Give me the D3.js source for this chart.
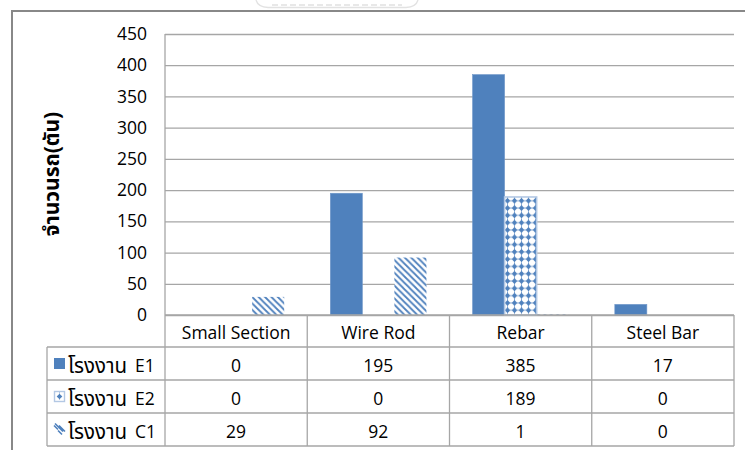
<!DOCTYPE html>
<html>
<head>
<meta charset="utf-8">
<script src="https://cdn.jsdelivr.net/npm/d3@7"></script>
<style>
  html, body { margin: 0; padding: 0; background: #fff; }
  svg { display: block; }
  text { font-family: "Open Sans", "Noto Sans", "Noto Sans Thai", "DejaVu Sans", sans-serif; fill: #000; }
</style>
</head>
<body>
<svg id="chart" width="745" height="450"></svg>
<script>
// Monthly tonnage per product line for three plants
const categories = ["Small Section", "Wire Rod", "Rebar", "Steel Bar"];
const seriesNames = ["โรงงาน E1", "โรงงาน E2", "โรงงาน C1"];
const plantE1 = [0, 195, 385, 17];
const plantE2 = [0, 0, 189, 0];
const plantC1 = [29, 92, 1, 0];
const yTicks = [0, 50, 100, 150, 200, 250, 300, 350, 400, 450];
const yTitle = "จำนวนรถ(ตัน)";

const series = [
  { name: seriesNames[0], values: plantE1, key: "e1" },
  { name: seriesNames[1], values: plantE2, key: "e2" },
  { name: seriesNames[2], values: plantC1, key: "c1" }
];

const W = 745, H = 450;
const plot = { left: 165, right: 734, top: 34, bottom: 315 };
const table = { left: 47, header: 347, bottom: 446 };
const blue = "#4f81bd";
const gridColor = "#a6a6a6";
const fontSize = 17.5;
const thaiSize = 20.5;

const svg = d3.select("#chart");
const defs = svg.append("defs");

// Fill patterns: dotted diamonds for E2, wide downward diagonal for C1
const pE2 = defs.append("pattern").attr("id", "pat-e2")
  .attr("patternUnits", "userSpaceOnUse").attr("width", 7).attr("height", 7.3);
pE2.append("rect").attr("width", 7).attr("height", 7.3).attr("fill", "#fff");
pE2.append("line").attr("x1", 0).attr("x2", 7).attr("y1", 3.65).attr("y2", 3.65)
  .attr("stroke", blue).attr("stroke-width", 0.9).attr("stroke-dasharray", "1,1").attr("opacity", 0.8);
pE2.append("line").attr("x1", 3.5).attr("x2", 3.5).attr("y1", 0).attr("y2", 7.3)
  .attr("stroke", blue).attr("stroke-width", 0.9).attr("stroke-dasharray", "1,1").attr("opacity", 0.8);
pE2.append("path").attr("d", "M3.5,0.7 L6.3,3.65 L3.5,6.6 L0.7,3.65 Z").attr("fill", blue);

const pC1 = defs.append("pattern").attr("id", "pat-c1")
  .attr("patternUnits", "userSpaceOnUse").attr("width", 6.4).attr("height", 6.4);
pC1.append("rect").attr("width", 6.4).attr("height", 6.4).attr("fill", "#fff");
pC1.append("path").attr("d", "M-1,-1 L7.4,7.4 M-7.4,-1 L1,7.4 M5.4,-1 L13.8,7.4")
  .attr("stroke", blue).attr("stroke-width", 1.8);

const fills = { e1: blue, e2: "url(#pat-e2)", c1: "url(#pat-c1)" };

// Faint seal outline peeking in at the top of the page
svg.append("path")
  .attr("d", "M256,0 Q258,7 268,7.5 L406,7.5 Q416,7 418,0")
  .attr("fill", "none").attr("stroke", "#e2e2e2").attr("stroke-width", 1.3);
svg.append("line").attr("x1", 272).attr("x2", 402).attr("y1", 5).attr("y2", 5)
  .attr("stroke", "#e8e8e8").attr("stroke-width", 1.8).attr("stroke-dasharray", "6,3");

// Outer chart frame (continues past the right and bottom edges)
svg.append("path").attr("d", `M12,${H} L12,11 L${W},11`)
  .attr("fill", "none").attr("stroke", "#888").attr("stroke-width", 2);

// Scales
const y = d3.scaleLinear().domain([0, 450]).range([plot.bottom, plot.top]);
const x = d3.scaleBand().domain(categories).range([plot.left, plot.right]).padding(0);
const xs = d3.scaleBand().domain(series.map(s => s.key)).range([0, x.bandwidth()])
  .paddingInner(0).paddingOuter(0.72);

// Gridlines via the axis generator
const grid = svg.append("g").attr("transform", `translate(${plot.left},0)`)
  .call(d3.axisLeft(y).tickValues(yTicks).tickSize(-(plot.right - plot.left)).tickFormat(""));
grid.select(".domain").remove();
grid.selectAll(".tick line").attr("stroke", gridColor).attr("stroke-width", 1.3);

// Tick labels
const yAxis = svg.append("g").attr("transform", `translate(${plot.left},0)`)
  .call(d3.axisLeft(y).tickValues(yTicks).tickSize(0).tickPadding(18));
yAxis.select(".domain").remove();
yAxis.selectAll("text").attr("font-size", fontSize)
  .style("font-family", "'Open Sans', sans-serif").attr("fill", "#000");

// Vertical axis line
svg.append("line").attr("x1", plot.left).attr("x2", plot.left)
  .attr("y1", plot.top).attr("y2", table.bottom)
  .attr("stroke", gridColor).attr("stroke-width", 1.3);

// Axis title
svg.append("text")
  .attr("transform", `translate(51,174) rotate(-90)`)
  .attr("text-anchor", "middle").attr("dominant-baseline", "central")
  .attr("font-size", 21).attr("font-weight", "bold")
  .text(yTitle);

// Bars
series.forEach(s => {
  svg.append("g").selectAll("rect").data(s.values).join("rect")
    .attr("x", (d, i) => x(categories[i]) + xs(s.key))
    .attr("width", xs.bandwidth())
    .attr("y", d => y(d))
    .attr("height", d => y(0) - y(d))
    .attr("fill", fills[s.key])
    .attr("stroke", d => d > 0 ? (s.key === "e2" ? "#b3c8e4" : (s.key === "e1" ? "#6f97c9" : "none")) : "none")
    .attr("stroke-width", s.key === "e2" ? 1.6 : 0.6);
});

// Data table lines
const rowH = (table.bottom - table.header) / 3;
const tl = svg.append("g").attr("stroke", gridColor).attr("stroke-width", 1.3);
tl.append("line").attr("x1", plot.left).attr("x2", plot.right).attr("y1", plot.bottom).attr("y2", plot.bottom);
[0, 1, 2, 3].forEach(r => {
  const yy = table.header + r * rowH;
  tl.append("line").attr("x1", table.left).attr("x2", plot.right).attr("y1", yy).attr("y2", yy);
});
tl.append("line").attr("x1", table.left).attr("x2", table.left).attr("y1", table.header).attr("y2", table.bottom);
categories.forEach(c => {
  tl.append("line").attr("x1", x(c) + x.bandwidth()).attr("x2", x(c) + x.bandwidth())
    .attr("y1", plot.bottom).attr("y2", table.bottom);
});

// Header: category names
svg.append("g").selectAll("text").data(categories).join("text")
  .attr("x", c => x(c) + x.bandwidth() / 2)
  .attr("y", (plot.bottom + table.header) / 2 + 1)
  .attr("text-anchor", "middle").attr("dominant-baseline", "central")
  .attr("font-size", fontSize).text(c => c);

// Rows: legend key, series name, values
const rowMid = r => table.header + r * rowH + rowH / 2;
series.forEach((s, r) => {
  const cy = rowMid(r);
  const g = svg.append("g");
  if (s.key === "e1") {
    g.append("rect").attr("x", 54).attr("y", cy - 5.5).attr("width", 11).attr("height", 11).attr("fill", blue);
  } else if (s.key === "e2") {
    g.append("rect").attr("x", 54.5).attr("y", cy - 5).attr("width", 10).attr("height", 10)
      .attr("fill", "#fff").attr("stroke", "#b3c8e4").attr("stroke-width", 1.4);
    g.append("path").attr("d", `M59.5,${cy - 2.8} L62.3,${cy} L59.5,${cy + 2.8} L56.7,${cy} Z`).attr("fill", blue);
    g.append("line").attr("x1", 59.5).attr("x2", 59.5).attr("y1", cy - 4).attr("y2", cy + 4)
      .attr("stroke", blue).attr("stroke-width", 0.8).attr("stroke-dasharray", "1,1");
  } else {
    g.append("path")
      .attr("d", `M54,${cy - 4} L58,${cy} M55,${cy - 6} L63,${cy + 2} M59,${cy - 4} L65,${cy + 2} M58,${cy + 1} L62,${cy + 5}`)
      .attr("stroke", blue).attr("stroke-width", 1.6);
  }
  const [thai, code] = s.name.split(" ");
  const label = g.append("text").attr("x", 68).attr("y", cy + 1).attr("dominant-baseline", "central");
  label.append("tspan").attr("font-size", thaiSize).text(thai);
  label.append("tspan").attr("font-size", fontSize).attr("dx", 8).text(code);
  g.selectAll("text.val").data(s.values).join("text").attr("class", "val")
    .attr("x", (d, i) => x(categories[i]) + x.bandwidth() / 2)
    .attr("y", cy + 1)
    .attr("text-anchor", "middle").attr("dominant-baseline", "central")
    .attr("font-size", fontSize).text(d => d);
});
</script>
</body>
</html>
